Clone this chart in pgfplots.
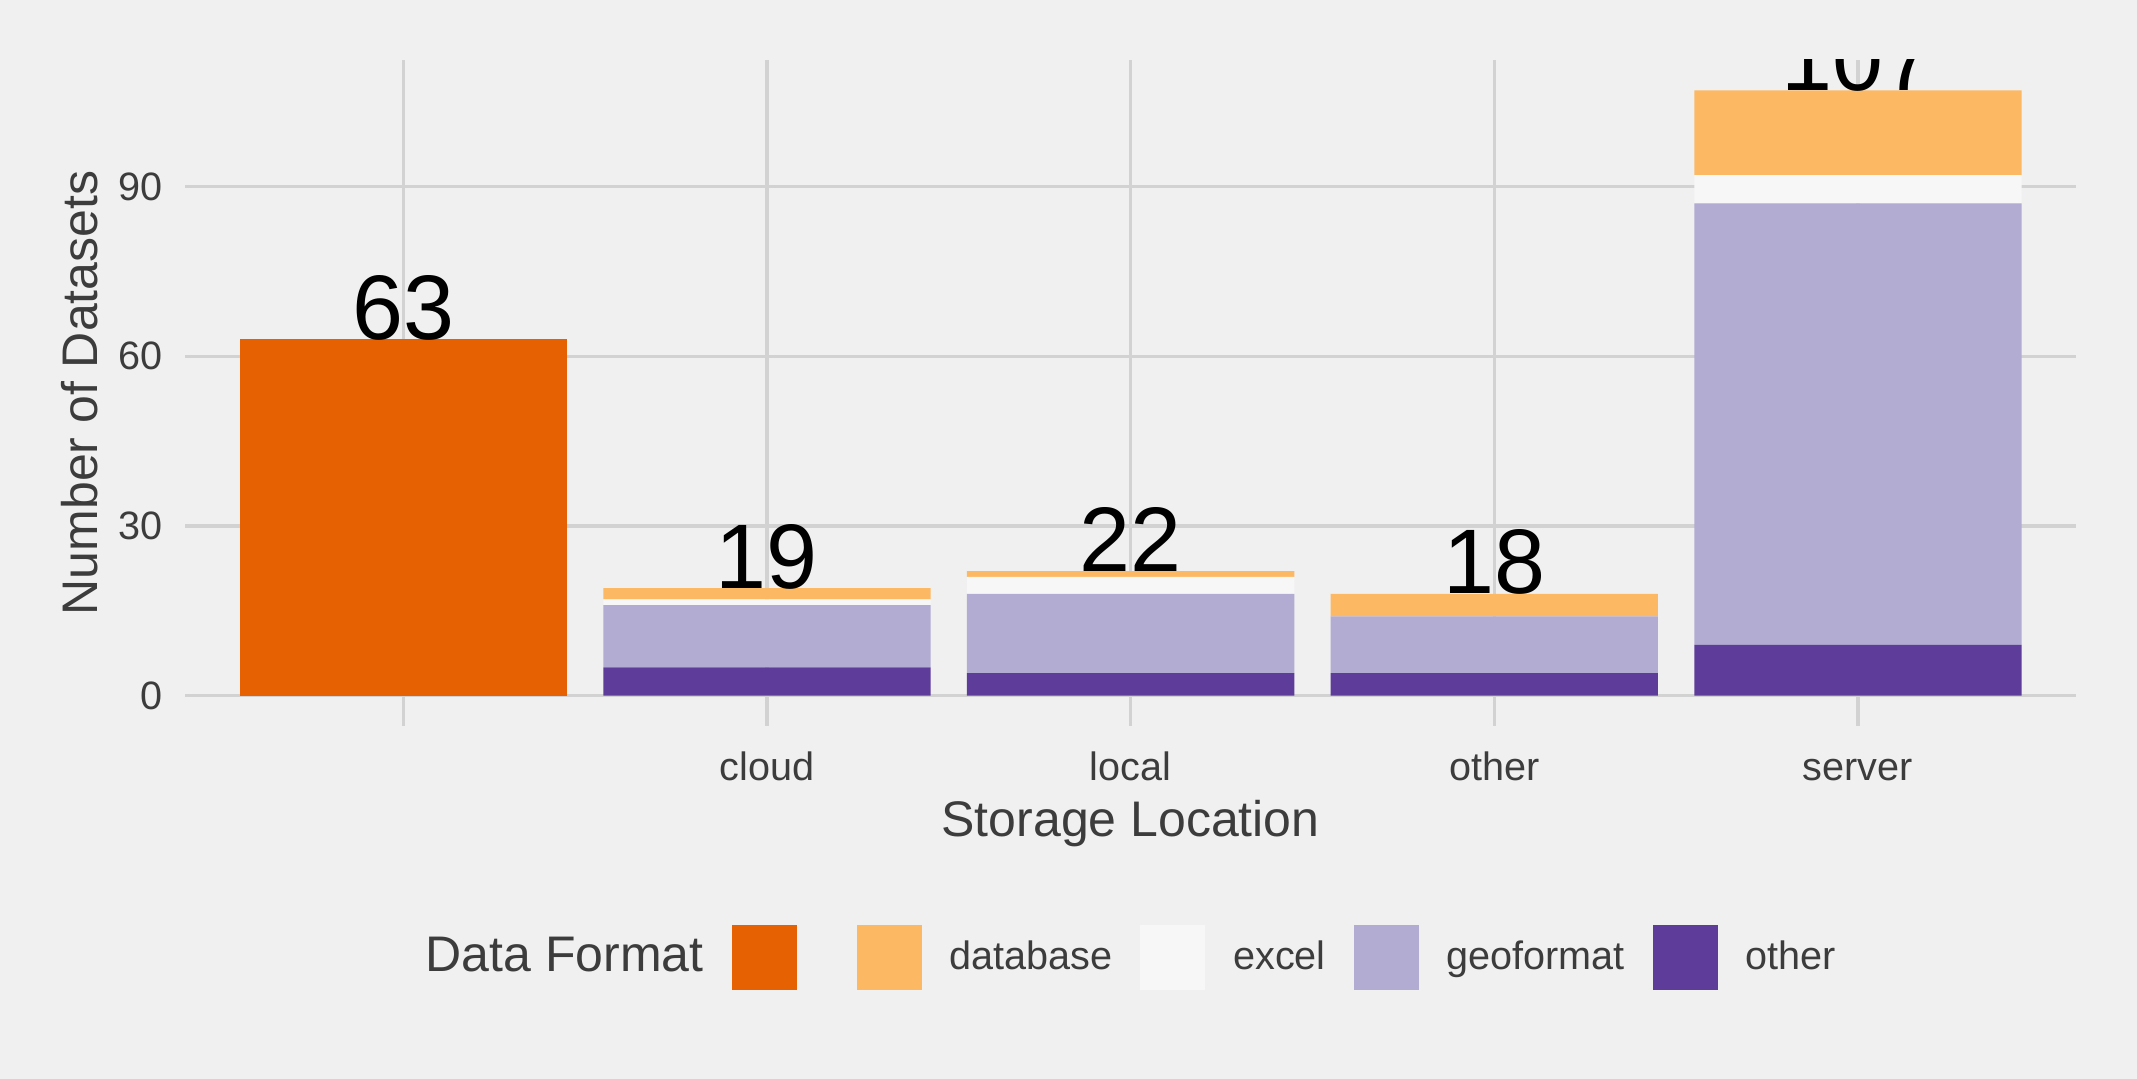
\documentclass[border=0pt]{standalone}
\usepackage{fontspec}
\setmainfont{Liberation Sans}
\usepackage{pgfplots}
\pgfplotsset{compat=1.18}
\usepackage{pgfplotstable}

\definecolor{bg}{HTML}{F0F0F0}
\definecolor{grid}{HTML}{D2D2D2}
\definecolor{txt}{HTML}{3C3C3C}
\definecolor{cblank}{HTML}{E66101}
\definecolor{cdb}{HTML}{FDB863}
\definecolor{cexcel}{HTML}{F7F7F7}
\definecolor{cgeo}{HTML}{B2ABD2}
\definecolor{cother}{HTML}{5E3C99}

% storage location x data format counts
\pgfplotstableread{
x other geo excel db blank total
0 0  0  0 0  63 63
1 5  11 1 2  0  19
2 4  14 3 1  0  22
3 4  10 0 4  0  18
4 9  78 5 15 0  107
}\datatable

\pgfplotsset{panel/.style={
  at={(0,0)}, anchor=south west,
  scale only axis, width=453.8pt, height=159.8pt,
  xmin=-0.6, xmax=4.6, ymin=-5.35, ymax=112.35,
  /pgf/number format/assume math mode=true}}

\begin{document}
\begin{tikzpicture}
\fill[bg] (-44.4pt,-84.7pt) rectangle (468.4pt,174.2pt);
\begin{axis}[
  panel,
  ybar stacked, bar width=0.9,
  axis line style={draw=none},
  major tick length=0pt,
  xtick={0,...,4}, xticklabels={{},cloud,local,other,server},
  ytick={0,30,60,90},
  grid=major, major grid style={draw=grid, line width=0.8pt},
  tick label style={font=\fontsize{9.5}{11}\selectfont, text=txt},
  xticklabel style={anchor=base, inner sep=0pt, yshift=-13pt},
  yticklabel style={anchor=east, inner sep=0pt, xshift=-5.3pt},
  xlabel={Storage Location}, ylabel={Number of Datasets},
  label style={font=\fontsize{12}{14}\selectfont, text=txt},
  xlabel style={at={(axis description cs:0.5,0)}, anchor=base, yshift=-26.6pt},
  ylabel style={at={(axis description cs:-0.0465,0.5)}, anchor=base},
  legend image code/.code={\fill[#1] (0pt,-7.8pt) rectangle (15.6pt,7.8pt);},
  legend style={at={(axis description cs:0.1121,-0.3483)}, anchor=west,
    draw=none, fill=none, inner sep=0pt,
    font=\fontsize{9.5}{11}\selectfont, text=txt,
    /tikz/column sep=6.7pt,
    /tikz/every even column/.append style={column sep=6.7pt},
    nodes={inner sep=0pt}},
  legend columns=-1, legend cell align=left,
]
\addplot[forget plot, fill=cother, draw=none] table[x=x, y=other] {\datatable};
\addplot[forget plot, fill=cgeo, draw=none] table[x=x, y=geo] {\datatable};
\addplot[forget plot, fill=cexcel, draw=none] table[x=x, y=excel] {\datatable};
\addplot[forget plot, fill=cdb, draw=none] table[x=x, y=db] {\datatable};
\addplot[forget plot, fill=cblank, draw=none] table[x=x, y=blank] {\datatable};

\addlegendimage{empty legend}\addlegendentry{\fontsize{12}{14}\selectfont Data Format}
\addlegendimage{fill=cblank, draw=none}\addlegendentry{\mbox{}}
\addlegendimage{fill=cdb, draw=none}\addlegendentry{database}
\addlegendimage{fill=cexcel, draw=none}\addlegendentry{excel}
\addlegendimage{fill=cgeo, draw=none}\addlegendentry{geoformat}
\addlegendimage{fill=cother, draw=none}\addlegendentry{other}
\end{axis}
% totals above the bars, clipped at the panel like the original
\begin{axis}[panel, hide axis, clip marker paths=true]
\addplot[only marks, mark=none, nodes near coords, point meta=explicit,
  every node near coord/.append style={font=\fontsize{22}{24}\selectfont, text=black, anchor=base, inner sep=0pt}]
  table[x=x, y=total, meta=total] {\datatable};
\end{axis}
\pgfresetboundingbox
\useasboundingbox (-44.4pt,-84.7pt) rectangle (468.4pt,174.2pt);
\end{tikzpicture}
\end{document}
